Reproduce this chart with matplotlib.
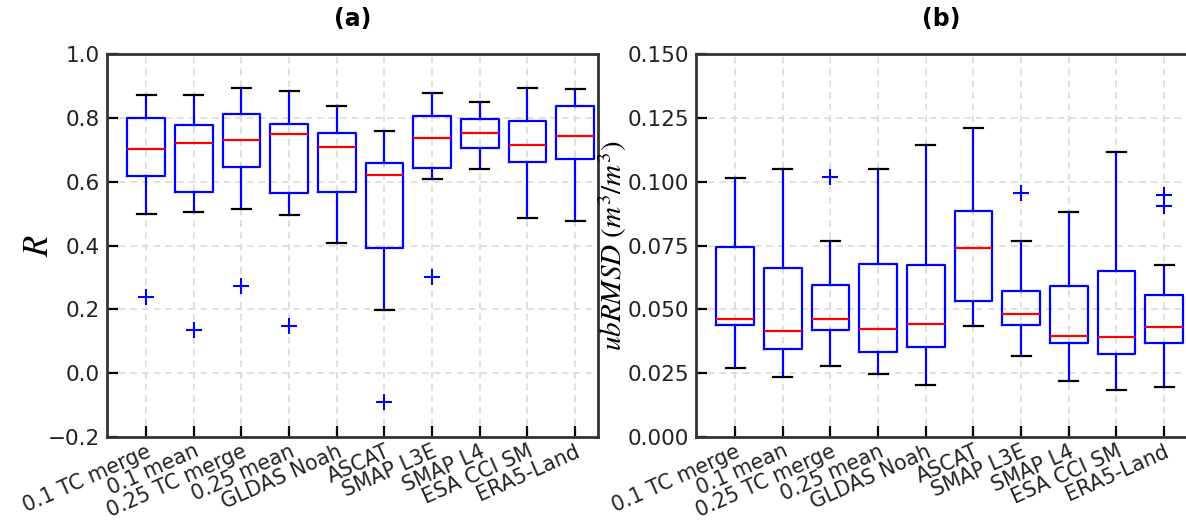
import matplotlib
matplotlib.use("Agg")
import matplotlib.pyplot as plt

plt.rcParams["mathtext.fontset"] = "stix"

categories = ["0.1 TC merge", "0.1 mean", "0.25 TC merge", "0.25 mean", "GLDAS Noah",
              "ASCAT", "SMAP L3E", "SMAP L4", "ESA CCI SM", "ERA5-Land"]

# Panel (a): R
r_lower = [0.500, 0.504, 0.513, 0.495, 0.408, 0.197, 0.608, 0.641, 0.487, 0.478]
r_q1    = [0.619, 0.569, 0.646, 0.564, 0.568, 0.393, 0.644, 0.706, 0.662, 0.670]
r_med   = [0.701, 0.722, 0.729, 0.749, 0.708, 0.621, 0.736, 0.754, 0.716, 0.742]
r_q3    = [0.799, 0.777, 0.813, 0.780, 0.752, 0.657, 0.807, 0.797, 0.791, 0.838]
r_upper = [0.871, 0.873, 0.892, 0.883, 0.838, 0.759, 0.879, 0.851, 0.892, 0.891]
r_fliers = [[0.240], [0.134], [0.273], [0.149], [], [-0.090], [0.302], [], [], []]

# Panel (b): ubRMSD
u_lower = [0.0271, 0.0235, 0.0279, 0.0246, 0.0205, 0.0433, 0.0317, 0.0221, 0.0184, 0.0197]
u_q1    = [0.0437, 0.0343, 0.0419, 0.0334, 0.0352, 0.0533, 0.0440, 0.0368, 0.0327, 0.0368]
u_med   = [0.0463, 0.0416, 0.0461, 0.0424, 0.0444, 0.0742, 0.0482, 0.0394, 0.0393, 0.0431]
u_q3    = [0.0744, 0.0660, 0.0594, 0.0676, 0.0672, 0.0885, 0.0570, 0.0593, 0.0651, 0.0557]
u_upper = [0.1013, 0.1051, 0.0769, 0.1051, 0.1143, 0.1211, 0.0769, 0.0882, 0.1115, 0.0672]
u_fliers = [[], [], [0.1020], [], [], [], [0.0955], [], [], [0.0948, 0.0904]]

r_ticks = [-0.2, 0.0, 0.2, 0.4, 0.6, 0.8, 1.0]
u_ticks = [0.000, 0.025, 0.050, 0.075, 0.100, 0.125, 0.150]


def make_stats(lo, q1, med, q3, hi, fl):
    return [dict(whislo=a, q1=b, med=c, q3=d, whishi=e, fliers=f)
            for a, b, c, d, e, f in zip(lo, q1, med, q3, hi, fl)]


fig = plt.figure(figsize=(11.86, 5.26), dpi=100)
W, H = 1186, 526
ax1 = fig.add_axes([107 / W, 1 - 437 / H, (598 - 107) / W, (437 - 54) / H])
ax2 = fig.add_axes([696 / W, 1 - 437 / H, (1187 - 696) / W, (437 - 54) / H])

blue = "#0000ff"
props = dict(
    boxprops=dict(color=blue, linewidth=1.6),
    whiskerprops=dict(color=blue, linewidth=1.6),
    capprops=dict(color="black", linewidth=1.6),
    medianprops=dict(color="#ff0000", linewidth=1.6),
    flierprops=dict(marker="+", markeredgecolor=blue, markersize=11, markeredgewidth=1.5,
                    linestyle="none"),
)

panels = [
    (ax1, make_stats(r_lower, r_q1, r_med, r_q3, r_upper, r_fliers), r_ticks,
     (-0.2, 1.0), "(a)", r"$R$", 25, "%.1f", (55 - 107) / 491),
    (ax2, make_stats(u_lower, u_q1, u_med, u_q3, u_upper, u_fliers), u_ticks,
     (0.0, 0.15), "(b)", r"$ubRMSD\ (m^3/m^3)$", 21, "%.3f", (629 - 696) / 491),
]

for ax, stats, ticks, ylim, title, ylabel, lsize, fmt, lx in panels:
    ax.set_axisbelow(True)
    ax.grid(True, color="#d9d9d9", linestyle="--", linewidth=1.2, dashes=(4, 3))
    ax.bxp(stats, positions=range(1, len(categories) + 1), widths=0.79, **props)
    ax.set_xlim(0.18, 10.48)
    ax.set_ylim(*ylim)
    ax.set_yticks(ticks)
    ax.set_yticklabels([fmt % t if t >= 0 else "\u2212" + fmt % abs(t) for t in ticks])
    ax.set_xticks(range(1, len(categories) + 1))
    ax.set_xticklabels(categories, rotation=24, ha="right", rotation_mode="anchor")
    ax.tick_params(axis="both", direction="in", length=8, width=1.6, color="black",
                   labelcolor="#222222", pad=5, labelsize=15.5)
    ax.tick_params(axis="x", labelsize=14.8, pad=3)
    for s in ax.spines.values():
        s.set_color("#333333")
        s.set_linewidth(2.0)
    ax.set_title(title, fontsize=17, fontweight="bold", pad=20)
    ax.set_ylabel(ylabel, fontsize=lsize)
    ax.yaxis.set_label_coords(lx, 0.5)

fig.savefig("out.png", dpi=100)
